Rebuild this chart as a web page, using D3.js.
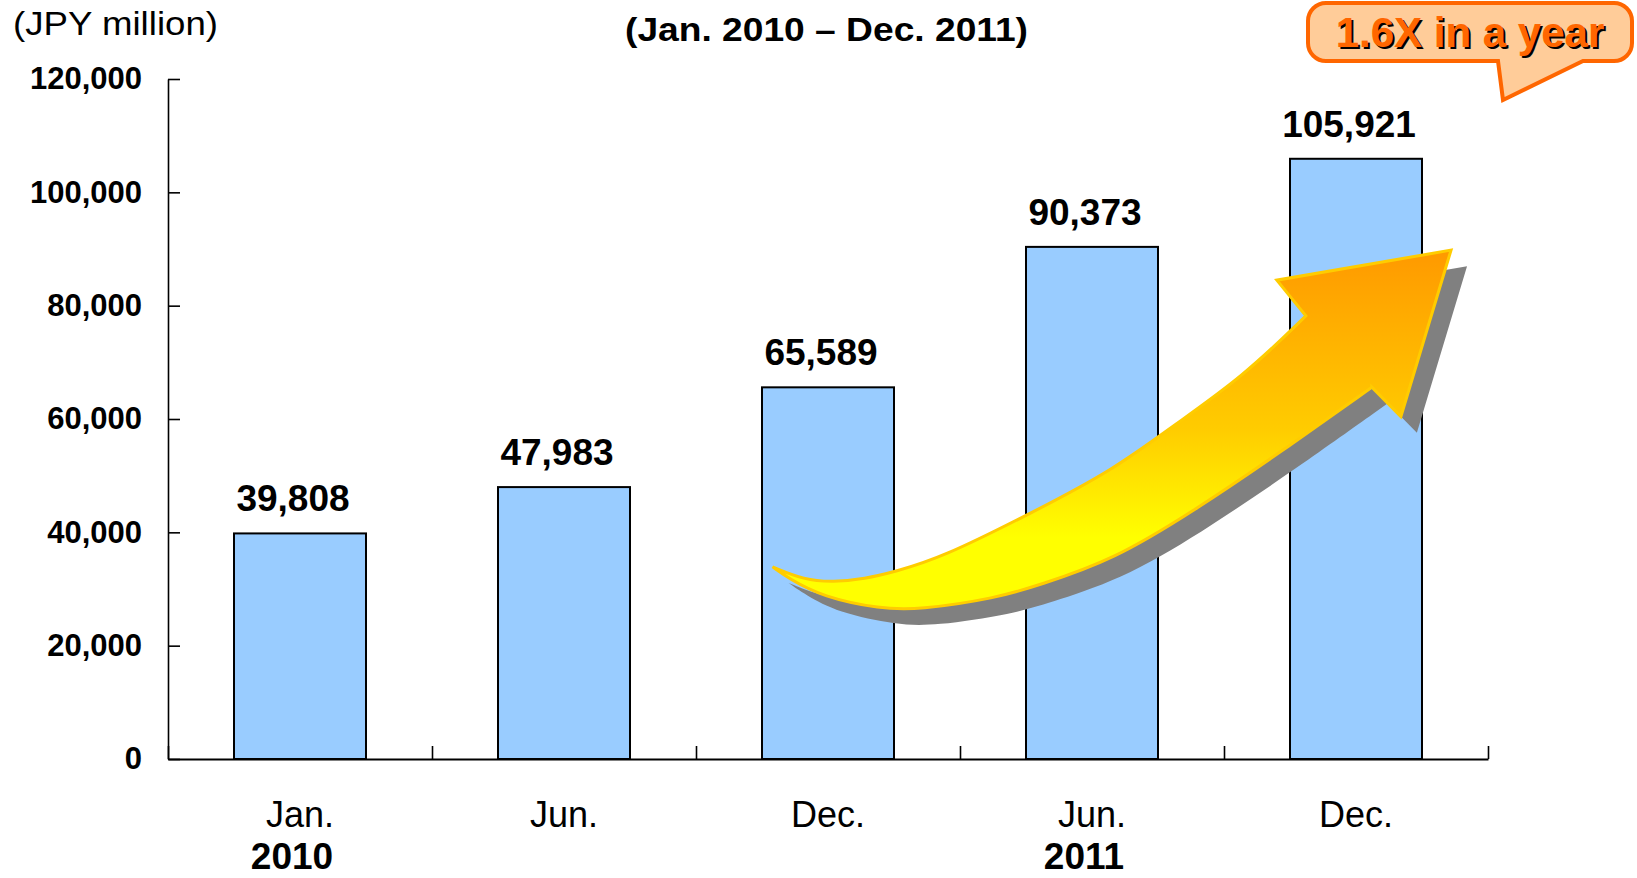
<!DOCTYPE html>
<html>
<head>
<meta charset="utf-8">
<script src="https://cdn.jsdelivr.net/npm/d3@7"></script>
<style>
  body { margin: 0; background: #fff; }
  text { font-family: "Liberation Sans", Arial, sans-serif; }
</style>
</head>
<body>
<div id="chart"></div>
<script>
// chart data
var months = ["Jan.", "Jun.", "Dec.", "Jun.", "Dec."];
var years = ["2010", "", "", "2011", ""];
var balance = [39808, 47983, 65589, 90373, 105921];
var yTicks = [0, 20000, 40000, 60000, 80000, 100000, 120000];

// growth arrow outline, in chart units: [category position, JPY million]
var arrowUpper = [[2.29,33900],[2.41,31600],[2.52,31200],[2.64,31800],[2.75,33000],[2.93,35500],
                  [3.27,43400],[3.58,51000],[3.81,58900],[4.07,67400],[4.31,78200]];
var arrowHead = [[4.20,84500],[4.86,89800],[4.67,60400],[4.56,65600]];
var arrowLower = [[4.56,65600],[4.21,54000],[3.89,43900],[3.58,35100],[3.30,30700],[3.14,28400],
                  [2.84,26300],[2.70,26500],[2.48,28600],[2.35,31900],[2.29,33900]];

var W = 1637, H = 878;
// plot box (note: "top" is reserved on window, so use plot* names)
var plotLeft = 168, plotRight = 1488, plotTop = 79, plotBottom = 759;

var svg = d3.select("#chart").append("svg")
    .attr("width", W)
    .attr("height", H);

svg.append("rect").attr("width", W).attr("height", H).attr("fill", "#fff");

var x = d3.scaleBand()
    .domain(d3.range(months.length))
    .range([plotLeft, plotRight])
    .paddingInner(0.5)
    .paddingOuter(0.25);

// continuous version of the category axis (0 = left edge, 5 = right edge)
var u = d3.scaleLinear().domain([0, months.length]).range([plotLeft, plotRight]);

var y = d3.scaleLinear().domain([0, 120000]).range([plotBottom, plotTop]);

// bars
svg.append("g")
  .selectAll("rect")
  .data(balance)
  .enter().append("rect")
    .attr("x", function(d, i) { return x(i); })
    .attr("y", function(d) { return y(d); })
    .attr("width", x.bandwidth())
    .attr("height", function(d) { return y(0) - y(d); })
    .attr("fill", "#99CCFF")
    .attr("stroke", "#000")
    .attr("stroke-width", 2);

// y axis, ticks pointing inwards
var yAxis = svg.append("g")
    .attr("transform", "translate(" + plotLeft + ",0)")
    .call(d3.axisLeft(y).tickValues(yTicks).tickFormat(d3.format(","))
        .tickSizeInner(-12).tickSizeOuter(0).tickPadding(26));
yAxis.attr("font-family", null).attr("font-size", null);
yAxis.select(".domain").attr("stroke", "#000").attr("stroke-width", 1.6);
yAxis.selectAll(".tick line").attr("stroke", "#000").attr("stroke-width", 1.6);
yAxis.selectAll(".tick text")
    .attr("fill", "#000")
    .style("font-size", "31px")
    .style("font-weight", "bold");

// x axis: boundary ticks only
var xAxis = svg.append("g")
    .attr("transform", "translate(0," + plotBottom + ")")
    .call(d3.axisBottom(u).tickValues(d3.range(months.length + 1)).tickFormat("")
        .tickSizeInner(-13).tickSizeOuter(0));
xAxis.select(".domain").attr("stroke", "#000").attr("stroke-width", 2.2);
xAxis.selectAll(".tick line").attr("stroke", "#000").attr("stroke-width", 1.6);

// month labels
svg.append("g")
  .selectAll("text")
  .data(months)
  .enter().append("text")
    .attr("x", function(d, i) { return x(i) + x.bandwidth() / 2; })
    .attr("y", 827)
    .attr("text-anchor", "middle")
    .style("font-size", "36px")
    .text(function(d) { return d; });

// year labels
svg.append("g")
  .selectAll("text")
  .data(years)
  .enter().append("text")
    .attr("x", function(d, i) { return x(i) + x.bandwidth() / 2 - 8; })
    .attr("y", 869)
    .attr("text-anchor", "middle")
    .style("font-size", "37px")
    .style("font-weight", "bold")
    .text(function(d) { return d; });

// growth arrow
var defs = svg.append("defs");
var grad = defs.append("linearGradient")
    .attr("id", "arrowGrad")
    .attr("x1", 0).attr("y1", 0).attr("x2", 0).attr("y2", 1);
grad.append("stop").attr("offset", 0).attr("stop-color", "#FF9900");
grad.append("stop").attr("offset", 0.5).attr("stop-color", "#FFCC00");
grad.append("stop").attr("offset", 0.8).attr("stop-color", "#FFFF00");
grad.append("stop").attr("offset", 1).attr("stop-color", "#FFFF00");

var edge = d3.line()
    .x(function(d) { return u(d[0]); })
    .y(function(d) { return y(d[1]); })
    .curve(d3.curveBasis);

var arrowPath = edge(arrowUpper) +
    arrowHead.map(function(p) { return "L" + u(p[0]) + "," + y(p[1]); }).join("") +
    edge(arrowLower).replace(/^M/, "L") + "Z";

svg.append("path")
    .attr("d", arrowPath)
    .attr("transform", "translate(16,16)")
    .attr("fill", "#808080");

svg.append("path")
    .attr("d", arrowPath)
    .attr("fill", "url(#arrowGrad)")
    .attr("stroke", "#FFCC00")
    .attr("stroke-width", 3)
    .attr("stroke-linejoin", "miter");

// value labels
svg.append("g")
  .selectAll("text")
  .data(balance)
  .enter().append("text")
    .attr("x", function(d, i) { return x(i) + x.bandwidth() / 2 - 7; })
    .attr("y", function(d) { return y(d) - 22; })
    .attr("text-anchor", "middle")
    .style("font-size", "37px")
    .style("font-weight", "bold")
    .text(function(d) { return d3.format(",")(d); });

// titles
svg.append("text")
    .attr("x", 13)
    .attr("y", 35)
    .attr("textLength", 205)
    .attr("lengthAdjust", "spacingAndGlyphs")
    .style("font-size", "33px")
    .text("(JPY million)");

svg.append("text")
    .attr("x", 625)
    .attr("y", 41)
    .attr("textLength", 403)
    .attr("lengthAdjust", "spacingAndGlyphs")
    .style("font-size", "33px")
    .style("font-weight", "bold")
    .text("(Jan. 2010 \u2013 Dec. 2011)");

// callout
var bx0 = 1308, bx1 = 1632, by0 = 3, by1 = 61, r = 18;
var p = d3.path();
p.moveTo(bx0 + r, by0);
p.lineTo(bx1 - r, by0);
p.arcTo(bx1, by0, bx1, by0 + r, r);
p.lineTo(bx1, by1 - r);
p.arcTo(bx1, by1, bx1 - r, by1, r);
p.lineTo(1583, by1);
p.lineTo(1503, 100);
p.lineTo(1498, by1);
p.lineTo(bx0 + r, by1);
p.arcTo(bx0, by1, bx0, by1 - r, r);
p.lineTo(bx0, by0 + r);
p.arcTo(bx0, by0, bx0 + r, by0, r);
p.closePath();

svg.append("path")
    .attr("d", p.toString())
    .attr("fill", "#FFCC99")
    .attr("stroke", "#FF6600")
    .attr("stroke-width", 4)
    .attr("stroke-linejoin", "miter");

svg.append("text")
    .attr("x", 1472)
    .attr("y", 49)
    .attr("text-anchor", "middle")
    .style("font-size", "42px")
    .style("font-weight", "bold")
    .attr("fill", "#000")
    .text("1.6X in a year");

svg.append("text")
    .attr("x", 1470)
    .attr("y", 47)
    .attr("text-anchor", "middle")
    .style("font-size", "42px")
    .style("font-weight", "bold")
    .attr("fill", "#FF6600")
    .text("1.6X in a year");
</script>
</body>
</html>
